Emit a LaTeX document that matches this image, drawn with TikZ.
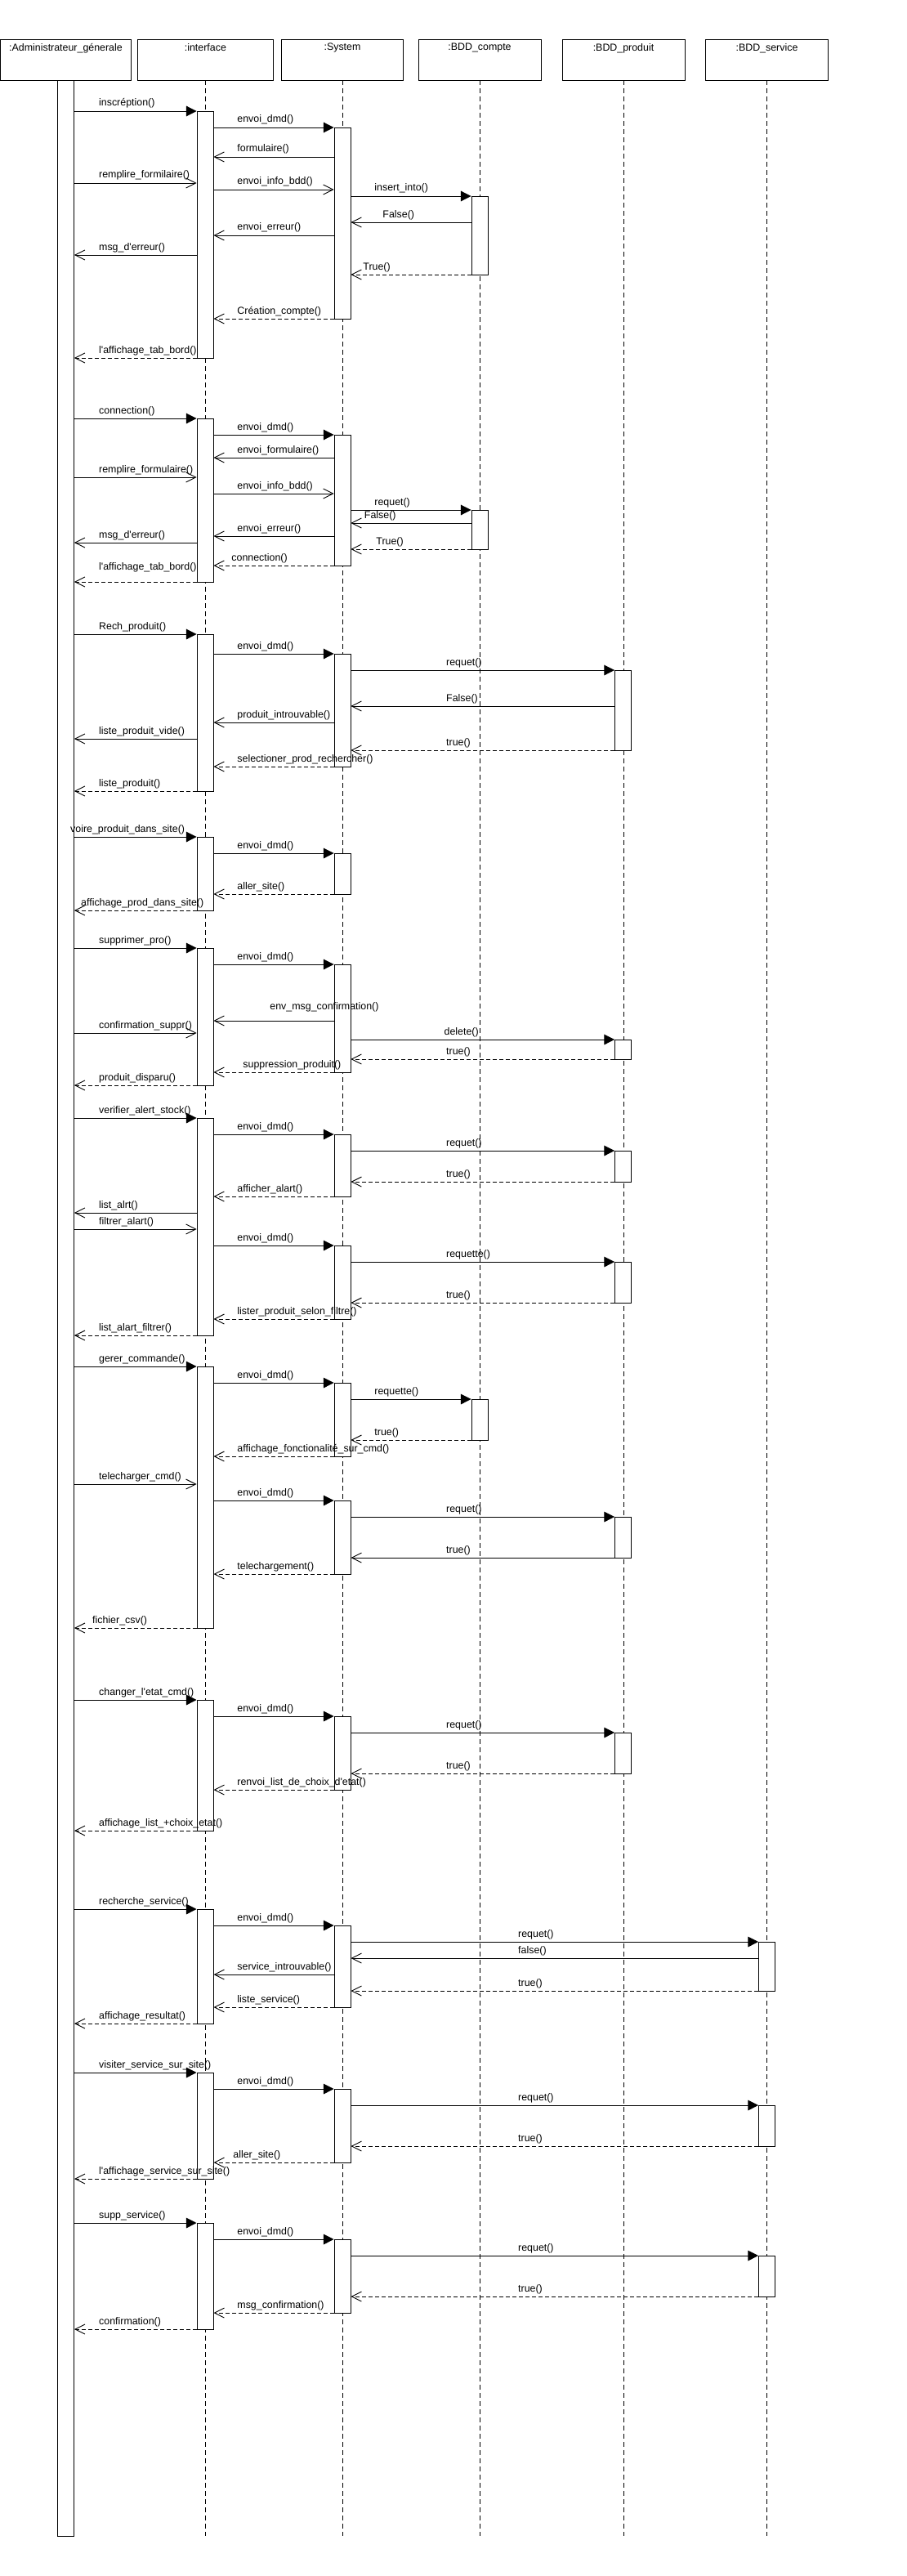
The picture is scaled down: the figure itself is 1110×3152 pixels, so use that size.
\documentclass[tikz,border=0pt]{standalone}
\usepackage{fontspec}
\setmainfont{Liberation Sans}[Ligatures=TeXOff]
\usetikzlibrary{arrows.meta,fit}
\newcounter{msgc}
\newcommand\lblfont{\fontsize{12.4}{14}\selectfont}
\tikzset{
  head/.style={draw, line width=0.9pt, fill=white, inner sep=0pt, minimum height=50pt},
  headtxt/.style={anchor=north, inner sep=0pt, font=\lblfont},
  act/.style={draw, line width=0.9pt, fill=white, inner sep=0pt},
  lifeline/.style={line width=0.8pt, dash pattern=on 6pt off 4pt},
  call/.style={line width=0.9pt, -{Triangle[length=12.7pt,width=12.7pt]}},
  async/.style={line width=0.9pt, -{Straight Barb[length=12pt,width=12pt]}},
  ret/.style={line width=0.9pt, dash pattern=on 5pt off 3pt, -{Straight Barb[length=12pt,width=12pt]}},
  lbl/.style={pos=0.5, anchor=base west, xshift=-45pt, yshift=6pt, inner sep=0pt, font=\lblfont},
}
\newcommand\actbar[4]{\node[act, fit={(#2-10,#3)(#2+10,#4)}] (#1) {};}
\newcommand\msg[6][]{\stepcounter{msgc}\draw[#2] (#3 |- 0,#5) -- (#4 |- 0,#5) node[lbl,#1] (m\arabic{msgc}) {#6};}
\begin{document}
\begin{tikzpicture}[x=1pt,y=-1pt]
\useasboundingbox (0,0) rectangle (1110,3152);
% headers
\node[head, minimum width=160pt] (hA) at (80.5,73) {};
\node[head, minimum width=166pt] (hI) at (251.4,73) {};
\node[head, minimum width=149pt] (hS) at (419,73) {};
\node[head, minimum width=150pt] (hC) at (587,73) {};
\node[head, minimum width=150pt] (hP) at (763,73) {};
\node[head, minimum width=150pt] (hV) at (938.5,73) {};
\node[headtxt] (tA) at (hA.north |- 0,53) {:Administrateur\_génerale};
\node[headtxt] (tI) at (hI.north |- 0,53) {:interface};
\node[headtxt] (tS) at (hS.north |- 0,53) {:System};
\node[headtxt] (tC) at (hC.north |- 0,53) {:BDD\_compte};
\node[headtxt] (tP) at (hP.north |- 0,53) {:BDD\_produit};
\node[headtxt] (tV) at (hV.north |- 0,53) {:BDD\_service};
% lifelines
\coordinate (eI) at (hI.south |- 0,3103);
\coordinate (eS) at (hS.south |- 0,3103);
\coordinate (eC) at (hC.south |- 0,3103);
\coordinate (eP) at (hP.south |- 0,3103);
\coordinate (eV) at (hV.south |- 0,3103);
\draw[lifeline] (hI.south) -- (eI);
\draw[lifeline] (hS.south) -- (eS);
\draw[lifeline] (hC.south) -- (eC);
\draw[lifeline] (hP.south) -- (eP);
\draw[lifeline] (hV.south) -- (eV);
% activation bars
\actbar{A}{80.5}{98}{3103}
\actbar{I1}{251}{136}{438}
\actbar{I2}{251}{512}{712}
\actbar{I3}{251}{776}{968}
\actbar{I4}{251}{1024}{1114}
\actbar{I5}{251}{1160}{1328}
\actbar{I6}{251}{1368}{1634}
\actbar{I7}{251}{1672}{1992}
\actbar{I8}{251}{2080}{2240}
\actbar{I9}{251}{2336}{2476}
\actbar{I10}{251}{2536}{2666}
\actbar{I11}{251}{2720}{2850}
\actbar{S1}{419}{156}{390}
\actbar{S2}{419}{532}{692}
\actbar{S3}{419}{800}{938}
\actbar{S4}{419}{1044}{1094}
\actbar{S5}{419}{1180}{1312}
\actbar{S6}{419}{1388}{1464}
\actbar{S7}{419}{1524}{1614}
\actbar{S8}{419}{1692}{1782}
\actbar{S9}{419}{1836}{1926}
\actbar{S10}{419}{2100}{2190}
\actbar{S11}{419}{2356}{2456}
\actbar{S12}{419}{2556}{2646}
\actbar{S13}{419}{2740}{2830}
\actbar{C1}{587}{240}{336}
\actbar{C2}{587}{624}{672}
\actbar{C3}{587}{1712}{1762}
\actbar{P1}{762.5}{820}{918}
\actbar{P2}{762.5}{1272}{1296}
\actbar{P3}{762.5}{1408}{1446}
\actbar{P4}{762.5}{1544}{1594}
\actbar{P5}{762.5}{1856}{1906}
\actbar{P6}{762.5}{2120}{2170}
\actbar{V1}{938.5}{2376}{2436}
\actbar{V2}{938.5}{2576}{2626}
\actbar{V3}{938.5}{2760}{2810}
% section 1
\msg{call}{A.east}{I1.west}{136}{inscréption()}
\msg{call}{I1.east}{S1.west}{156}{envoi\_dmd()}
\msg{async}{S1.west}{I1.east}{192}{formulaire()}
\msg{async}{A.east}{I1.west}{224}{remplire\_formilaire()}
\msg{async}{I1.east}{S1.west}{232}{envoi\_info\_bdd()}
\msg{call}{S1.east}{C1.west}{240}{insert\_into()}
\msg[xshift=10pt]{async}{C1.west}{S1.east}{272}{False()}
\msg{async}{S1.west}{I1.east}{288}{envoi\_erreur()}
\msg{async}{I1.west}{A.east}{312}{msg\_d'erreur()}
\msg[xshift=-14pt]{ret}{C1.west}{S1.east}{336}{True()}
\msg{ret}{S1.west}{I1.east}{390}{Création\_compte()}
\msg{ret}{I1.west}{A.east}{438}{l'affichage\_tab\_bord()}
% section 2
\msg{call}{A.east}{I2.west}{512}{connection()}
\msg{call}{I2.east}{S2.west}{532}{envoi\_dmd()}
\msg{async}{S2.west}{I2.east}{560}{envoi\_formulaire()}
\msg{async}{A.east}{I2.west}{584}{remplire\_formulaire()}
\msg{async}{I2.east}{S2.west}{604}{envoi\_info\_bdd()}
\msg{call}{S2.east}{C2.west}{624}{requet()}
\msg[xshift=-12.5pt]{async}{C2.west}{S2.east}{640}{False()}
\msg{async}{S2.west}{I2.east}{656}{envoi\_erreur()}
\msg{async}{I2.west}{A.east}{664}{msg\_d'erreur()}
\msg[xshift=2pt]{ret}{C2.west}{S2.east}{672}{True()}
\msg[xshift=-7pt]{ret}{S2.west}{I2.east}{692}{connection()}
\msg[yshift=9pt]{ret}{I2.west}{A.east}{712}{l'affichage\_tab\_bord()}
% section 3
\msg{call}{A.east}{I3.west}{776}{Rech\_produit()}
\msg{call}{I3.east}{S3.west}{800}{envoi\_dmd()}
\msg{call}{S3.east}{P1.west}{820}{requet()}
\msg{async}{P1.west}{S3.east}{864}{False()}
\msg{async}{S3.west}{I3.east}{884}{produit\_introuvable()}
\msg{async}{I3.west}{A.east}{904}{liste\_produit\_vide()}
\msg{ret}{P1.west}{S3.east}{918}{true()}
\msg{ret}{S3.west}{I3.east}{938}{selectioner\_prod\_rechercher()}
\msg{ret}{I3.west}{A.east}{968}{liste\_produit()}
% section 4
\msg[xshift=-35pt]{call}{A.east}{I4.west}{1024}{voire\_produit\_dans\_site()}
\msg{call}{I4.east}{S4.west}{1044}{envoi\_dmd()}
\msg{ret}{S4.west}{I4.east}{1094}{aller\_site()}
\msg[xshift=-22pt]{ret}{I4.west}{A.east}{1114}{affichage\_prod\_dans\_site()}
% section 5
\msg{call}{A.east}{I5.west}{1160}{supprimer\_pro()}
\msg{call}{I5.east}{S5.west}{1180}{envoi\_dmd()}
\msg[xshift=40pt,yshift=8pt]{async}{S5.west}{I5.east}{1249}{env\_msg\_confirmation()}
\msg{async}{A.east}{I5.west}{1264}{confirmation\_suppr()}
\msg[xshift=-2.5pt]{call}{S5.east}{P2.west}{1272}{delete()}
\msg{ret}{P2.west}{S5.east}{1296}{true()}
\msg[xshift=7pt]{ret}{S5.west}{I5.east}{1312}{suppression\_produit()}
\msg{ret}{I5.west}{A.east}{1328}{produit\_disparu()}
% section 6
\msg{call}{A.east}{I6.west}{1368}{verifier\_alert\_stock()}
\msg{call}{I6.east}{S6.west}{1388}{envoi\_dmd()}
\msg{call}{S6.east}{P3.west}{1408}{requet()}
\msg{ret}{P3.west}{S6.east}{1446}{true()}
\msg{ret}{S6.west}{I6.east}{1464}{afficher\_alart()}
\msg{async}{I6.west}{A.east}{1484}{list\_alrt()}
\msg{async}{A.east}{I6.west}{1504}{filtrer\_alart()}
\msg{call}{I6.east}{S7.west}{1524}{envoi\_dmd()}
\msg{call}{S7.east}{P4.west}{1544}{requette()}
\msg{ret}{P4.west}{S7.east}{1594}{true()}
\msg{ret}{S7.west}{I6.east}{1614}{lister\_produit\_selon\_filtre()}
\msg{ret}{I6.west}{A.east}{1634}{list\_alart\_filtrer()}
% section 7
\msg{call}{A.east}{I7.west}{1672}{gerer\_commande()}
\msg{call}{I7.east}{S8.west}{1692}{envoi\_dmd()}
\msg{call}{S8.east}{C3.west}{1712}{requette()}
\msg{ret}{C3.west}{S8.east}{1762}{true()}
\msg{ret}{S8.west}{I7.east}{1782}{affichage\_fonctionalité\_sur\_cmd()}
\msg{async}{A.east}{I7.west}{1816}{telecharger\_cmd()}
\msg{call}{I7.east}{S9.west}{1836}{envoi\_dmd()}
\msg{call}{S9.east}{P5.west}{1856}{requet()}
\msg{async}{P5.west}{S9.east}{1906}{true()}
\msg{ret}{S9.west}{I7.east}{1926}{telechargement()}
\msg[xshift=-8pt]{ret}{I7.west}{A.east}{1992}{fichier\_csv()}
% section 8
\msg{call}{A.east}{I8.west}{2080}{changer\_l'etat\_cmd()}
\msg{call}{I8.east}{S10.west}{2100}{envoi\_dmd()}
\msg{call}{S10.east}{P6.west}{2120}{requet()}
\msg{ret}{P6.west}{S10.east}{2170}{true()}
\msg{ret}{S10.west}{I8.east}{2190}{renvoi\_list\_de\_choix\_d'etat()}
\msg{ret}{I8.west}{A.east}{2240}{affichage\_list\_+choix\_etat()}
% section 9
\msg{call}{A.east}{I9.west}{2336}{recherche\_service()}
\msg{call}{I9.east}{S11.west}{2356}{envoi\_dmd()}
\msg{call}{S11.east}{V1.west}{2376}{requet()}
\msg{async}{V1.west}{S11.east}{2396}{false()}
\msg{async}{S11.west}{I9.east}{2416}{service\_introuvable()}
\msg{ret}{V1.west}{S11.east}{2436}{true()}
\msg{ret}{S11.west}{I9.east}{2456}{liste\_service()}
\msg{ret}{I9.west}{A.east}{2476}{affichage\_resultat()}
% section 10
\msg{call}{A.east}{I10.west}{2536}{visiter\_service\_sur\_site()}
\msg{call}{I10.east}{S12.west}{2556}{envoi\_dmd()}
\msg{call}{S12.east}{V2.west}{2576}{requet()}
\msg{ret}{V2.west}{S12.east}{2626}{true()}
\msg[xshift=-5pt]{ret}{S12.west}{I10.east}{2646}{aller\_site()}
\msg{ret}{I10.west}{A.east}{2666}{l'affichage\_service\_sur\_site()}
% section 11
\msg{call}{A.east}{I11.west}{2720}{supp\_service()}
\msg{call}{I11.east}{S13.west}{2740}{envoi\_dmd()}
\msg{call}{S13.east}{V3.west}{2760}{requet()}
\msg{ret}{V3.west}{S13.east}{2810}{true()}
\msg{ret}{S13.west}{I11.east}{2830}{msg\_confirmation()}
\msg{ret}{I11.west}{A.east}{2850}{confirmation()}
\end{tikzpicture}
\end{document}
